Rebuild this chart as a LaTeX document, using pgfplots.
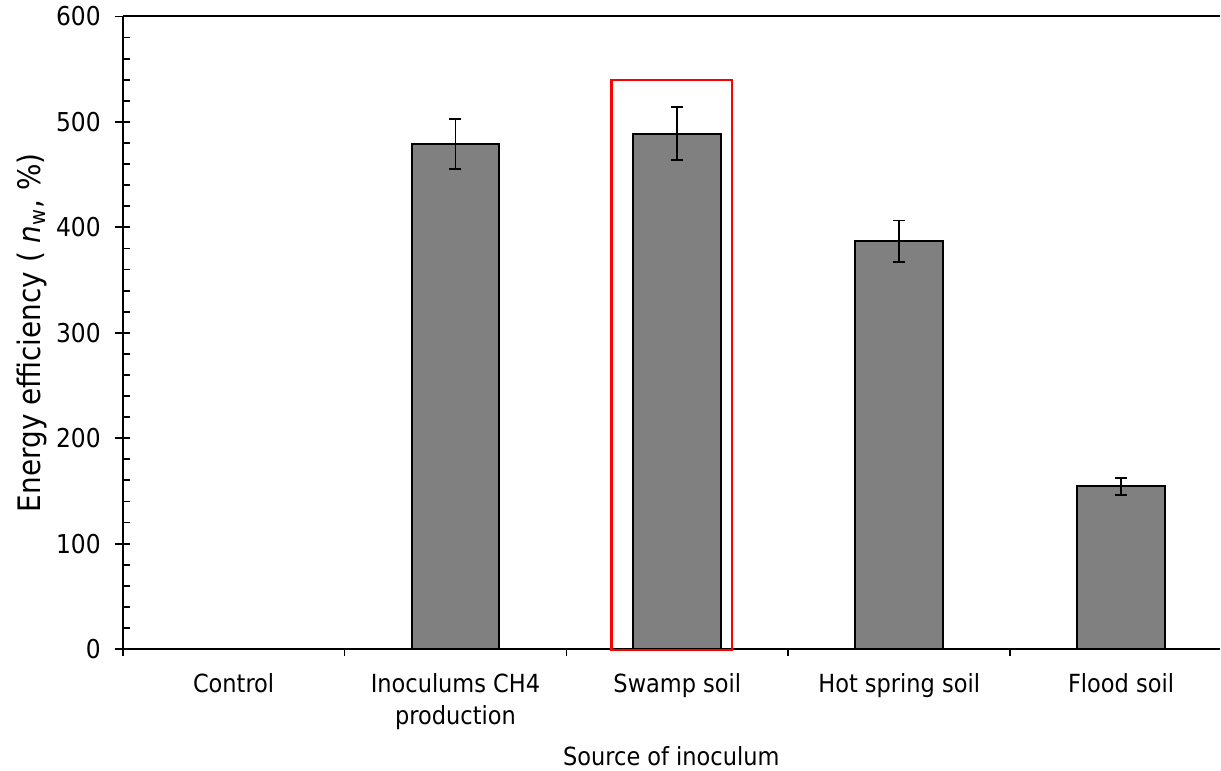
\documentclass[border=0pt]{standalone}
\usepackage{pgfplots}
\pgfplotsset{compat=1.18}
\usepackage{fontspec}
\setmainfont{DejaVu Sans Condensed}
\definecolor{bargray}{RGB}{128,128,128}
\begin{document}
\begin{tikzpicture}[font=\fontsize{12.5}{16}\selectfont]
\begin{axis}[
  scale only axis,
  width=549pt, height=316.5pt,
  xmin=-0.5, xmax=4.446,
  ymin=0, ymax=600,
  axis x line*=bottom, axis y line*=left,
  axis line style={line width=1pt, -},
  xtick={0,1,2,3,4},
  xticklabels={Control,Inoculums CH4\\production,Swamp soil,Hot spring soil,Flood soil},
  xticklabel style={align=center, yshift=-1pt, font=\fontsize{12.5}{16}\selectfont},
  major x tick style={draw=none},
  minor xtick={-0.5,0.5,1.5,2.5,3.5},
  xtick align=outside,
  ytick={0,100,...,600},
  minor ytick={20,40,60,80,120,140,160,180,220,240,260,280,320,340,360,380,420,440,460,480,520,540,560,580},
  ytick align=inside,
  major tick length=7.5pt,
  minor tick length=3.5pt,
  major y tick style={xshift=-4pt, line width=0.9pt, black},
  minor tick style={line width=0.9pt, black},
  yticklabel style={font=\fontsize{13}{16}\selectfont, xshift=-7.5pt},
  /pgf/number format/assume math mode=true,
  xlabel={Source of inoculum},
  ylabel={Energy efficiency ( \textit{n}\textsubscript{w}, \%)},
  xlabel style={at={(axis description cs:0.5,0)}, anchor=base, yshift=-58pt, inner sep=2.5pt, font=\fontsize{12.5}{16}\selectfont},
  ylabel style={at={(axis description cs:-0.0528,0.5)}, anchor=south, inner ysep=8.6pt, font=\fontsize{15.5}{18}\selectfont},
  clip=false,
]
\addplot[ybar, bar width=44pt, fill=bargray, draw=black, line width=1pt,
  error bars/.cd, y dir=both, y explicit,
  error bar style={line width=0.9pt, black},
  error mark options={rotate=90, mark size=3pt, line width=0.9pt, black}]
  coordinates {
  (1,479) +- (0,24)
  (2,489) +- (0,25)
  (3,387) +- (0,19.5)
  (4,154.5) +- (0,8)
  };
\draw[line width=1pt] (rel axis cs:0,1) -- (rel axis cs:1,1);
\draw[red, line width=1.1pt] (axis cs:1.703,-1) rectangle (axis cs:2.248,540);
\end{axis}
\end{tikzpicture}
\end{document}
